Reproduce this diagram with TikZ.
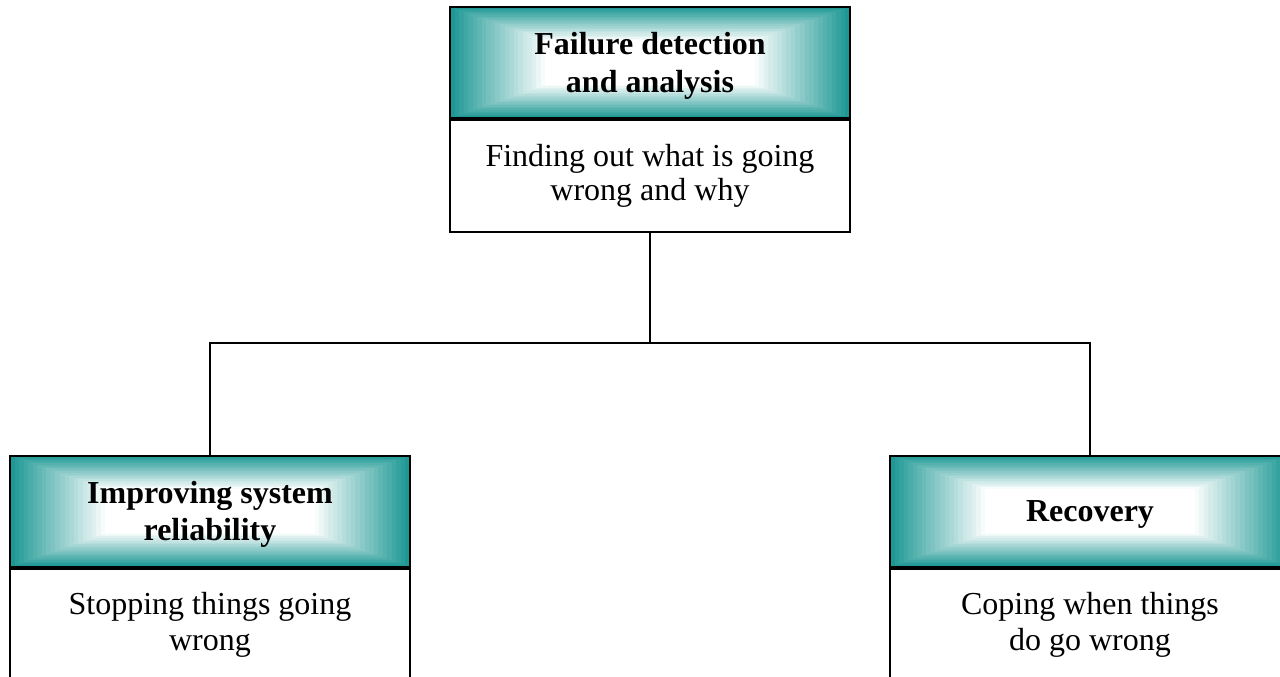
\documentclass[tikz,border=0pt]{standalone}
\usepackage{fontspec}
\setmainfont{Liberation Serif}
\usetikzlibrary{calc}
\definecolor{headteal}{RGB}{30,152,148}

\tikzset{
  headbox/.style={draw, line width=1.5pt, minimum width=300pt, minimum height=83.25pt,
    align=center, inner sep=0pt, text depth=0pt, font=\fontsize{24}{28}\selectfont\bfseries,
    path picture={
      % nested bands, teal at the rim fading to white in the middle
      \foreach \k [evaluate=\k as \tint using {int(max(0,100-100*\k/21))}] in {0,...,22} {
        \coordinate (hlo) at ($(path picture bounding box.south west)!\k/44!(path picture bounding box.center)$);
        \coordinate (vlo) at ($(path picture bounding box.south west)!\k/35!(path picture bounding box.center)$);
        \coordinate (hhi) at ($(path picture bounding box.north east)!\k/44!(path picture bounding box.center)$);
        \coordinate (vhi) at ($(path picture bounding box.north east)!\k/35!(path picture bounding box.center)$);
        \fill [headteal!\tint!white] (hlo |- vlo) rectangle (hhi |- vhi);
      }
    }},
  bodybox/.style={draw, line width=1.5pt, fill=white, minimum width=300pt, minimum height=84pt,
    align=center, inner sep=0pt, font=\fontsize{24}{27}\selectfont},
  link/.style={line width=1.5pt}
}

\begin{document}
\begin{tikzpicture}[x=0.75pt,y=0.75pt,yscale=-1,xscale=1]
\useasboundingbox (0,0) rectangle (1280,677);
\clip (0,0) rectangle (1280,677);

% top block
\node [headbox] (fdHead) at (650,62.5) {Failure detection\\and analysis};
\node [bodybox, anchor=north, font=\fontsize{24}{25}\selectfont] (fdBody) at (fdHead.south) {Finding out what is going\\wrong and why};

% left block
\node [headbox] (irHead) at (210,511) {Improving system\\reliability};
\node [bodybox, anchor=north] (irBody) at (irHead.south) {Stopping things going\\wrong};

% right block
\node [headbox] (rcHead) at (1090,511) {Recovery};
\node [bodybox, anchor=north] (rcBody) at (rcHead.south) {Coping when things\\do go wrong};

% tree lines
\coordinate (bus) at (650,343);
\draw [link] (fdBody.south) -- (bus);
\draw [link] (irHead.north) |- (bus) -| (rcHead.north);

\end{tikzpicture}
\end{document}
